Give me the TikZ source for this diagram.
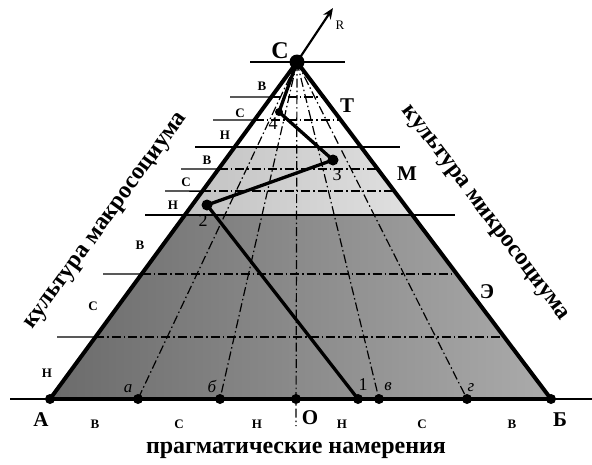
\documentclass[tikz,border=0pt]{standalone}
\usepackage{fontspec}
\setmainfont{Liberation Serif}
\usetikzlibrary{arrows.meta,calc}

\begin{document}
\begin{tikzpicture}[x=1pt,y=-1pt]
\tikzset{
  dotnode/.style={circle,fill,inner sep=0pt,minimum size=10pt},
  edgeline/.style={line width=4pt,line cap=round,line join=round},
  pathline/.style={line width=3.3pt,line cap=round,line join=round},
  levelline/.style={line width=1.4pt},
  dashdot/.style={line width=1.2pt,dash pattern=on 9pt off 3pt on 1.5pt off 3pt},
  biglabel/.style={font=\fontsize{21}{23}\selectfont\bfseries,inner sep=0pt},
  smalllabel/.style={font=\fontsize{13}{15}\selectfont\bfseries,inner sep=0pt},
  ptlabel/.style={font=\fontsize{17}{19}\selectfont\itshape,inner sep=0pt},
  numlabel/.style={font=\fontsize{18}{20}\selectfont,inner sep=0pt},
  axistext/.style={font=\fontsize{24}{26}\selectfont\bfseries,inner sep=0pt},
  rarrow/.style={-{Stealth[length=11pt,width=9pt]},line width=2.2pt}
}
\useasboundingbox (0,0) rectangle (592,464);
% points of the triangle and of the route
\coordinate (n_A) at (50,399);
\coordinate (n_B) at (551,399);
\coordinate (n_C) at (297,62);
\coordinate (n_a) at (138,399);
\coordinate (n_b) at (220,399);
\coordinate (n_O) at (296,399);
\coordinate (n_v) at (379,399);
\coordinate (n_g) at (467,399);
\coordinate (n_1) at (358,399);
\coordinate (n_2) at (207,205);
\coordinate (n_3) at (333,160);
\coordinate (n_4) at (279,112);
\coordinate (n_R) at (333,8);
\coordinate (n_Otail) at (296,426);
% grey bands
\shade[left color=black!58,right color=black!33] (n_A) -- (n_B) -- ($(n_B)!0.546!(n_C)$) -- ($(n_A)!0.546!(n_C)$) -- cycle;
\shade[left color=black!24,right color=black!12] ($(n_A)!0.546!(n_C)$) -- ($(n_B)!0.546!(n_C)$) -- ($(n_B)!0.7478!(n_C)$) -- ($(n_A)!0.7478!(n_C)$) -- cycle;
% lines from the apex
\draw[dashdot] (n_C) -- (n_a);
\draw[dashdot] (n_C) -- (n_b);
\draw[dashdot] (n_C) -- (n_Otail);
\draw[dashdot] (n_C) -- (n_v);
\draw[dashdot] (n_C) -- (n_g);
% levels
\draw[levelline] (250,62) -- (345,62);
\draw[levelline] (230,97) -- ($(n_A)!0.896!(n_C)$);
\draw[dashdot] ($(n_A)!0.896!(n_C)$) -- ($(n_B)!0.896!(n_C)$);
\draw[levelline] (213,120) -- ($(n_A)!0.828!(n_C)$);
\draw[dashdot] ($(n_A)!0.828!(n_C)$) -- ($(n_B)!0.828!(n_C)$);
\draw[levelline] (195,147) -- (400,147);
\draw[levelline] (181,169) -- ($(n_A)!0.6825!(n_C)$);
\draw[dashdot] ($(n_A)!0.6825!(n_C)$) -- ($(n_B)!0.6825!(n_C)$);
\draw[levelline] (165,191) -- ($(n_A)!0.617!(n_C)$);
\draw[dashdot] ($(n_A)!0.617!(n_C)$) -- ($(n_B)!0.617!(n_C)$);
\draw[levelline] (145,215) -- (455,215);
\draw[levelline] (103,274) -- ($(n_A)!0.371!(n_C)$);
\draw[dashdot] ($(n_A)!0.371!(n_C)$) -- ($(n_B)!0.371!(n_C)$);
\draw[levelline] (57,337) -- ($(n_A)!0.184!(n_C)$);
\draw[dashdot] ($(n_A)!0.184!(n_C)$) -- ($(n_B)!0.184!(n_C)$);
\draw[levelline] (10,399) -- (592,399);
% triangle and route
\draw[edgeline] (n_A) -- (n_B);
\draw[edgeline] (n_A) -- (n_C) -- (n_B);
\draw[pathline] (n_1) -- (n_2) -- (n_3) -- (n_4) -- (n_C);
\draw[rarrow] (n_C) -- (n_R);
% dots
\node[dotnode] (d_A) at (n_A) {};
\node[dotnode] (d_B) at (n_B) {};
\node[dotnode,minimum size=15pt] (d_C) at (n_C) {};
\node[dotnode] (d_a) at (n_a) {};
\node[dotnode] (d_b) at (n_b) {};
\node[dotnode] (d_O) at (n_O) {};
\node[dotnode] (d_v) at (n_v) {};
\node[dotnode] (d_g) at (n_g) {};
\node[dotnode] (d_1) at (n_1) {};
\node[dotnode,minimum size=11pt] (d_2) at (n_2) {};
\node[dotnode,minimum size=11pt] (d_3) at (n_3) {};
\node[dotnode,minimum size=8pt] (d_4) at (n_4) {};
% labels
\node[biglabel,font=\fontsize{24}{26}\selectfont\bfseries] (lbl_C) at (280,51) {С};
\node[font=\fontsize{13}{15}\selectfont,inner sep=0pt] (lbl_R) at (340,25) {R};
\node[biglabel] (lbl_A) at (41,420) {А};
\node[biglabel] (lbl_B) at (560,420) {Б};
\node[biglabel] (lbl_O) at (310,418) {О};
\node[biglabel] (lbl_T) at (347,106) {Т};
\node[biglabel] (lbl_M) at (407,174) {М};
\node[biglabel] (lbl_E) at (487,292) {Э};
\node[ptlabel] (lbl_a) at (128,389) {а};
\node[ptlabel] (lbl_b) at (212,386) {б};
\node[ptlabel] (lbl_v) at (388,387) {в};
\node[ptlabel] (lbl_g) at (471,388) {г};
\node[numlabel] (lbl_1) at (363,385) {1};
\node[numlabel] (lbl_2) at (203,221) {2};
\node[numlabel] (lbl_3) at (337,175) {3};
\node[numlabel] (lbl_4) at (273,124) {4};
% grades on the sides
\node[smalllabel] (g_top_v) at (262,86) {В};
\node[smalllabel] (g_top_s) at (240,113) {С};
\node[smalllabel] (g_top_n) at (225,135) {Н};
\node[smalllabel] (g_mid_v) at (207,160) {В};
\node[smalllabel] (g_mid_s) at (186,182) {С};
\node[smalllabel] (g_mid_n) at (173,205) {Н};
\node[smalllabel] (g_low_v) at (140,245) {В};
\node[smalllabel] (g_low_s) at (93,306) {С};
\node[smalllabel] (g_low_n) at (47,373) {Н};
\node[smalllabel] (g_base_1) at (95,424) {В};
\node[smalllabel] (g_base_2) at (179,424) {С};
\node[smalllabel] (g_base_3) at (257,424) {Н};
\node[smalllabel] (g_base_4) at (342,424) {Н};
\node[smalllabel] (g_base_5) at (422,424) {С};
\node[smalllabel] (g_base_6) at (512,424) {В};
% axis captions
\node[axistext,rotate=54] (t_macro) at (107,222) {культура макросоциума};
\node[axistext,rotate=-53] (t_micro) at (484,214) {культура микросоциума};
\node[axistext] (t_prag) at (296,450) {прагматические намерения};
\end{tikzpicture}
\end{document}
